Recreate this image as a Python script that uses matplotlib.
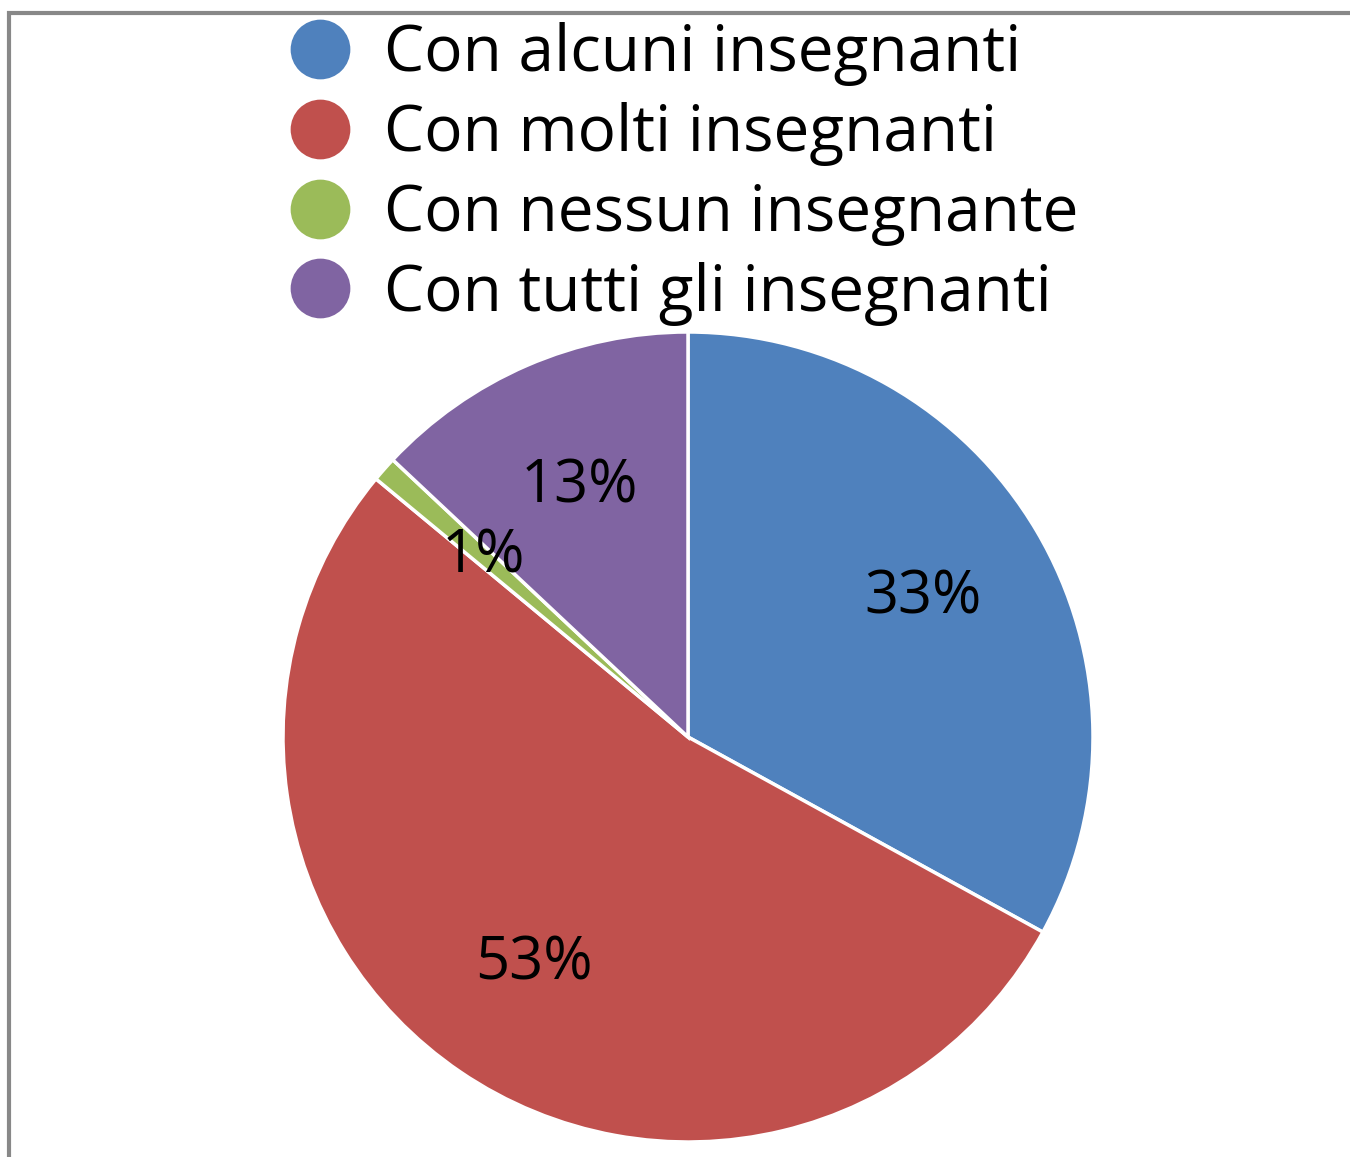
import matplotlib
matplotlib.use("Agg")
import matplotlib.pyplot as plt
from matplotlib.lines import Line2D
from matplotlib.patches import Rectangle

categories = ["Con alcuni insegnanti", "Con molti insegnanti",
              "Con nessun insegnante", "Con tutti gli insegnanti"]
values = [33, 53, 1, 13]
colors = ["#4F81BD", "#C0504D", "#9BBB59", "#8064A2"]

FONT = ["Open Sans", "DejaVu Sans"]

fig = plt.figure(figsize=(13.5, 11.57), dpi=100)
ax = fig.add_axes([283/1350, 15/1157, 810/1350, 810/1157])
wedges, texts, autotexts = ax.pie(
    values, colors=colors, startangle=90, counterclock=False,
    autopct=lambda p: f"{p:.0f}%", pctdistance=0.675,
    wedgeprops=dict(edgecolor="white", linewidth=2.5),
    textprops=dict(fontsize=43, family=FONT, color="black"))
ax.set_xlim(-1, 1)
ax.set_ylim(-1, 1)
ax.set_aspect("equal")
ax.axis("off")

handles = [Line2D([0], [0], marker="o", linestyle="none", markersize=43,
                  markerfacecolor=c, markeredgecolor="none") for c in colors]
fig.legend(handles, categories, loc="upper left",
           bbox_to_anchor=(250/1350, 1 + 10/1157), frameon=False,
           prop=dict(family=FONT, size=46), labelspacing=0.25,
           handletextpad=0.4, handlelength=1.2, borderpad=0)

fig.patches.append(Rectangle((9/1350, -0.1), 1.2, 1 - 13/1157 + 0.1,
                             transform=fig.transFigure, fill=False,
                             edgecolor="#888888", linewidth=3))
fig.savefig("out.png", dpi=100)
